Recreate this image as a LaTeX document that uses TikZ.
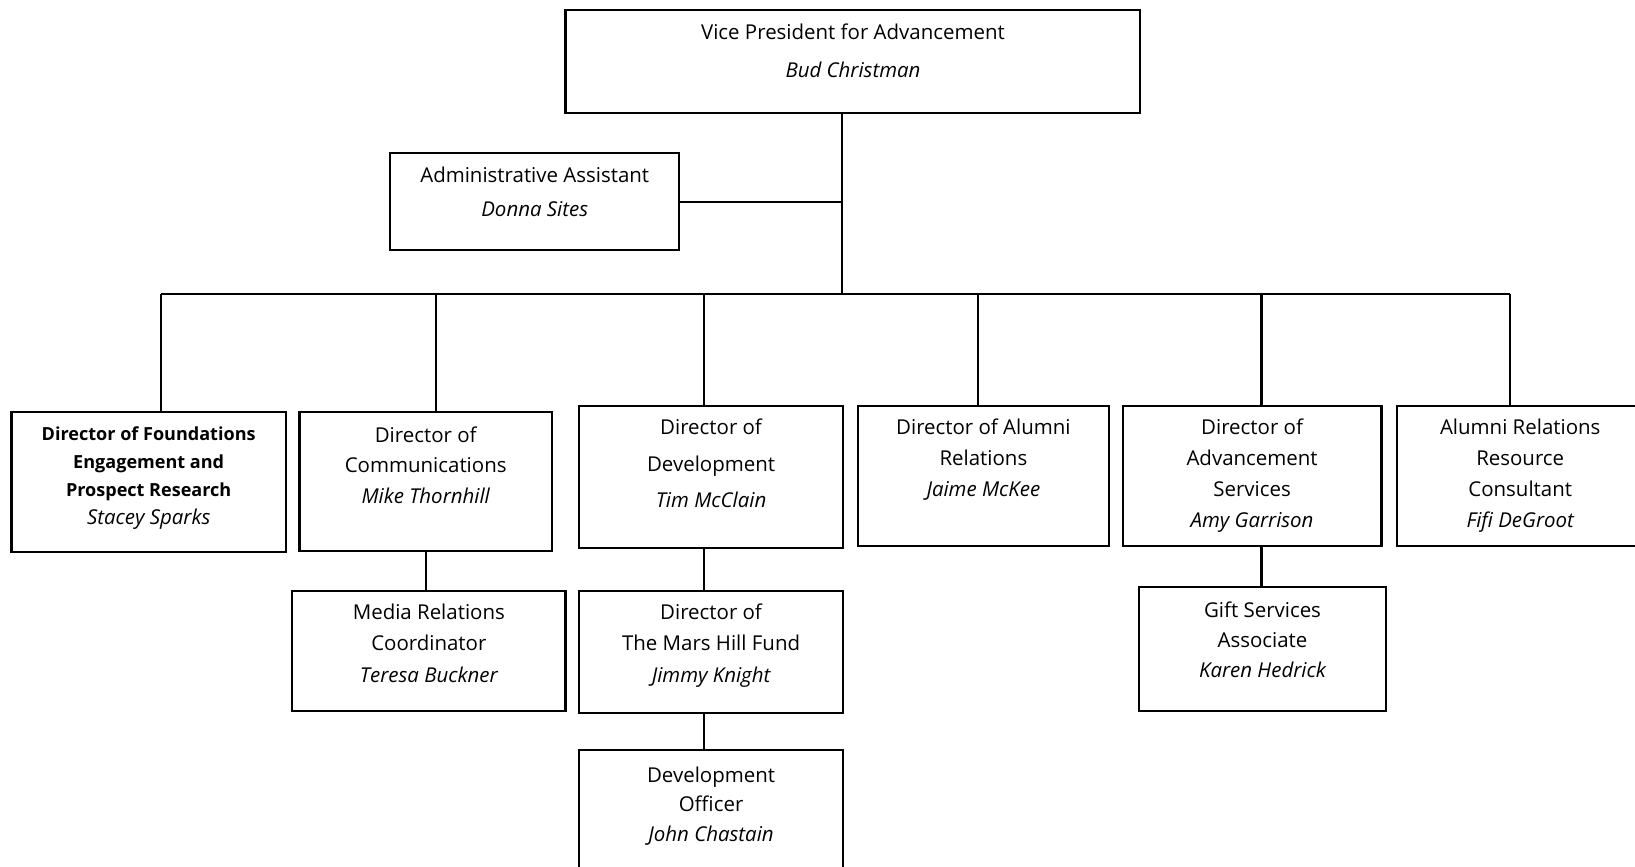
\documentclass[tikz,border=0pt]{standalone}
\usepackage{fontspec}
\setmainfont{Open Sans}
\newcommand\bodyfont[1]{\fontsize{19.6}{#1}\selectfont}
\newcommand\smallbold[1]{\fontsize{17.3}{#1}\selectfont\bfseries}
\begin{document}
\begin{tikzpicture}[x=1pt,y=-1pt,
  box/.style={draw=black,line width=2pt,anchor=north west,inner sep=0pt},
  txt/.style={anchor=north,inner sep=0pt,align=center,text=black},
  conn/.style={draw=black,line width=2pt}]
\useasboundingbox (0,0) rectangle (1567,830);
% boxes
\node[box,minimum width=551pt,minimum height=98pt] (vp) at (541,9) {};
\node[box,minimum width=277pt,minimum height=93pt] (adm) at (373,146) {};
\node[box,minimum width=263pt,minimum height=134pt] (fnd) at (10,394) {};
\node[box,minimum width=242pt,minimum height=133pt] (com) at (286,394) {};
\node[box,minimum width=253pt,minimum height=136pt] (dev) at (554,388) {};
\node[box,minimum width=241pt,minimum height=134pt] (alu) at (821,388) {};
\node[box,minimum width=248pt,minimum height=134pt] (ads) at (1075,388) {};
\node[box,minimum width=236pt,minimum height=134pt] (con) at (1338,388) {};
\node[box,minimum width=262pt,minimum height=115pt] (med) at (279,565) {};
\node[box,minimum width=253pt,minimum height=117pt] (mhf) at (554,565) {};
\node[box,minimum width=253pt,minimum height=116pt] (dvo) at (554,718) {};
\node[box,minimum width=236pt,minimum height=118pt] (gft) at (1091,562) {};
% texts
\node[txt,font=\bodyfont{37}] (vpt) at ([yshift=-2.6pt]vp.north) {\strut Vice President for Advancement\\\itshape Bud Christman};
\node[txt,font=\bodyfont{33}] (admt) at ([yshift=-5.4pt]adm.north) {\strut Administrative Assistant\\\itshape Donna Sites};
\node[txt,font=\smallbold{27}] (fndt) at ([yshift=-8.9pt]fnd.north) {\strut Director of Foundations\\Engagement and\\Prospect Research\\\bodyfont{27}\mdseries\itshape Stacey Sparks};
\node[txt,font=\bodyfont{29.5}] (comt) at ([yshift=-8.85pt]com.north) {\strut Director of\\Communications\\\itshape Mike Thornhill};
\node[txt,font=\bodyfont{35}] (devt) at ([yshift=-4pt]dev.north) {\strut Director of\\Development\\\itshape Tim McClain};
\node[txt,font=\bodyfont{29.5}] (alut) at ([yshift=-7.85pt]alu.north) {\strut Director of Alumni\\Relations\\\itshape Jaime McKee};
\node[txt,font=\bodyfont{29.5}] (adst) at ([yshift=-7.85pt]ads.north) {\strut Director of\\Advancement\\Services\\\itshape Amy Garrison};
\node[txt,font=\bodyfont{29.5}] (cont) at ([yshift=-7.85pt]con.north) {\strut Alumni Relations\\Resource\\Consultant\\\itshape Fifi DeGroot};
\node[txt,font=\bodyfont{30}] (medt) at ([yshift=-7.5pt]med.north) {\strut Media Relations\\Coordinator\\\itshape Teresa Buckner};
\node[txt,font=\bodyfont{30}] (mhft) at ([yshift=-7.5pt]mhf.north) {\strut Director of\\The Mars Hill Fund\\\itshape Jimmy Knight};
\node[txt,font=\bodyfont{28.5}] (dvot) at ([yshift=-11.55pt]dvo.north) {\strut Development\\Officer\\\itshape John Chastain};
\node[txt,font=\bodyfont{29}] (gftt) at ([yshift=-9.2pt]gft.north) {\strut Gift Services\\Associate\\\itshape Karen Hedrick};
% connectors
\coordinate (jt) at (807,282);
\coordinate (d1) at (154,282);
\coordinate (d2) at (418,282);
\coordinate (d3) at (675,282);
\coordinate (d4) at (937,282);
\coordinate (d5) at (1209,282);
\coordinate (d6) at (1447,282);
\draw[conn] (jt |- vp.south) -- (jt);
\draw[conn] (adm.east) -- (adm.east -| jt);
\draw[conn] (d1) -- (d6);
\draw[conn] (d1) -- (d1 |- fnd.north);
\draw[conn] (d2) -- (d2 |- com.north);
\draw[conn] (d3) -- (d3 |- dev.north);
\draw[conn] (d4) -- (d4 |- alu.north);
\draw[conn] (d5) -- (d5 |- ads.north);
\draw[conn] (d6) -- (d6 |- con.north);
\draw[conn] (com.south) -- (com.south |- med.north);
\draw[conn] (d3 |- dev.south) -- (d3 |- mhf.north);
\draw[conn] (d3 |- mhf.south) -- (d3 |- dvo.north);
\draw[conn] (d5 |- ads.south) -- (d5 |- gft.north);
\end{tikzpicture}
\end{document}
